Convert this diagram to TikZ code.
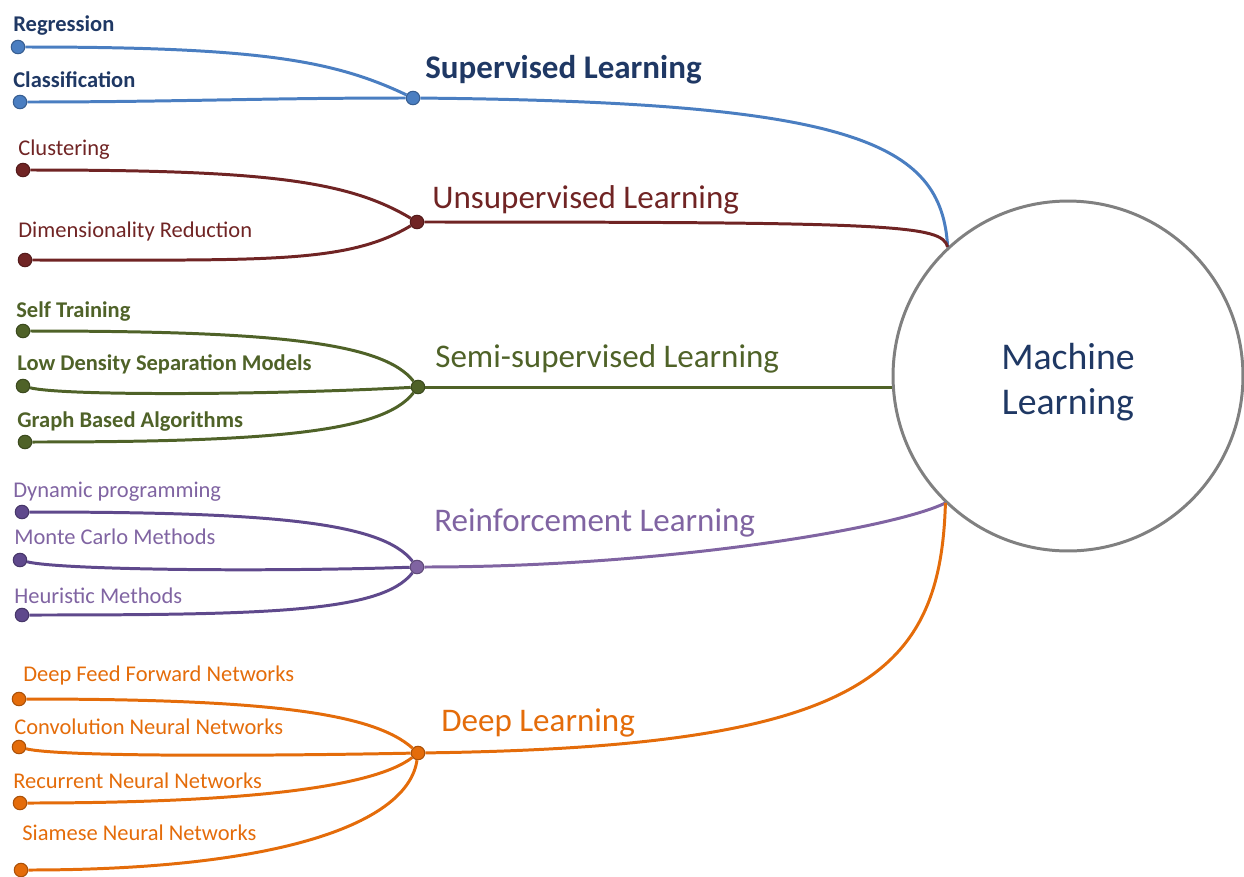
\documentclass[tikz,border=0pt]{standalone}
\usepackage{fontspec}
\setmainfont{Carlito}
\definecolor{supline}{RGB}{74,126,193}
\definecolor{suptext}{RGB}{31,56,100}
\definecolor{unscol}{RGB}{112,36,36}
\definecolor{semicol}{RGB}{79,98,40}
\definecolor{reintext}{RGB}{128,100,162}
\definecolor{reinline}{RGB}{95,73,140}
\definecolor{deepcol}{RGB}{228,108,10}
\definecolor{mlgray}{RGB}{128,128,128}
\begin{document}
\begin{tikzpicture}
[x=0.02cm,y=-0.02cm,
  dotdecorate/.style={shape=circle,inner sep=0pt,minimum size=0.27cm,fill=#1,draw=#1!75!black,line width=0.6pt},%
  linedecorate/.style={-,line width=1.7pt,draw=#1},%
  leafdecorate/.style={anchor=base west,inner sep=0pt,font=\fontsize{12.8}{15}\selectfont,text=#1},%
  groupdecorate/.style={anchor=base west,inner sep=0pt,font=\fontsize{18.8}{22}\selectfont,text=#1}]
\useasboundingbox (0,0) rectangle (1244,876);
%% centre circle
\node (ml) at (1068,376) [shape=circle,draw=mlgray,line width=1.7pt,minimum size=7cm,inner sep=0pt] {};
\node (ml-t) at (1068,382) [align=center,text=suptext,font=\fontsize{21.5}{25.6}\selectfont] {Machine\\Learning};
%% hubs
\foreach \nodename/\x/\y/\col in {
  sup/413/98/supline, uns/417/222/unscol, semi/418/387/semicol,
  rein/417/567/reintext, deep/418/753/deepcol} {
  \node (\nodename) at (\x,\y) [dotdecorate=\col] {};
}
%% group labels
\foreach \nodename/\x/\y/\col/\fs/\txt in {
  sup/425/78/suptext/\bfseries/Supervised Learning,
  uns/432/208/unscol/\mdseries/Unsupervised Learning,
  semi/435/367/semicol/\mdseries/Semi-supervised Learning,
  rein/434/531/reintext/\mdseries/Reinforcement Learning,
  deep/441/731/deepcol/\mdseries/Deep Learning} {
  \node (\nodename-t) at (\x,\y) [groupdecorate=\col] {\fs\txt};
}
%% leaves and their labels
\foreach \nodename/\x/\y/\lx/\ly/\col/\tcol/\fs/\txt in {
  %% supervised
  r/18/47/13/31/supline/suptext/\bfseries/Regression,
  c/20/102/13/87/supline/suptext/\bfseries/Classification,
  %% unsupervised
  cl/23/170/18/155/unscol/unscol/\mdseries/Clustering,
  dr/25/260/18/237/unscol/unscol/\mdseries/Dimensionality Reduction,
  %% semi-supervised
  st/23/331/16/317/semicol/semicol/\bfseries/Self Training,
  ld/23/386/17/370/semicol/semicol/\bfseries/Low Density Separation Models,
  gb/25/442/17/427/semicol/semicol/\bfseries/Graph Based Algorithms,
  %% reinforcement
  dp/22/512/13/497/reinline/reintext/\mdseries/Dynamic programming,
  mc/20/560/14/544/reinline/reintext/\mdseries/Monte Carlo Methods,
  hm/22/615/14/603/reinline/reintext/\mdseries/Heuristic Methods,
  %% deep
  df/19/699/23/681/deepcol/deepcol/\mdseries/Deep Feed Forward Networks,
  cn/19/747/14/734/deepcol/deepcol/\mdseries/Convolution Neural Networks,
  rn/20/803/13/788/deepcol/deepcol/\mdseries/Recurrent Neural Networks,
  sn/21/870/22/840/deepcol/deepcol/\mdseries/Siamese Neural Networks} {
  \node (\nodename) at (\x,\y) [dotdecorate=\col] {};
  \node (\nodename-t) at (\lx,\ly) [leafdecorate=\tcol] {\fs\txt};
}
%% leaf connectors
\foreach \startnode/\endnode/\ax/\ay/\bx/\by/\col in {
  r/sup/240/0/-80/-38/supline, c/sup/150/0/-150/0/supline,
  cl/uns/240/0/-70/-42/unscol, dr/uns/240/0/-70/42/unscol,
  st/semi/250/0/-35/-45/semicol, ld/semi/40/10/-150/8/semicol, gb/semi/250/0/-35/45/semicol,
  dp/rein/250/0/-35/-45/reinline, mc/rein/40/10/-150/5/reinline, hm/rein/250/0/-35/45/reinline,
  df/deep/250/0/-45/-40/deepcol, cn/deep/40/10/-150/3/deepcol,
  rn/deep/220/0/-45/35/deepcol, sn/deep/260/0/-10/70/deepcol} {
  \draw[linedecorate=\col] (\startnode) .. controls +(\ax,\ay) and +(\bx,\by) .. (\endnode);
}
%% main connectors
\draw[linedecorate=supline] (sup) .. controls +(440,4) and +(-6,-105) .. (ml.133);
\draw[linedecorate=unscol] (uns) .. controls +(480,0) and +(-6,-22) .. (ml.133);
\draw[linedecorate=semicol] (semi) -- (semi -| ml.west);
\draw[linedecorate=reintext] (rein) .. controls +(250,0) and +(-50,25) .. (ml.226);
\draw[linedecorate=deepcol] (deep) .. controls +(440,-6) and +(-5,175) .. (ml.226);
\end{tikzpicture}
\end{document}
